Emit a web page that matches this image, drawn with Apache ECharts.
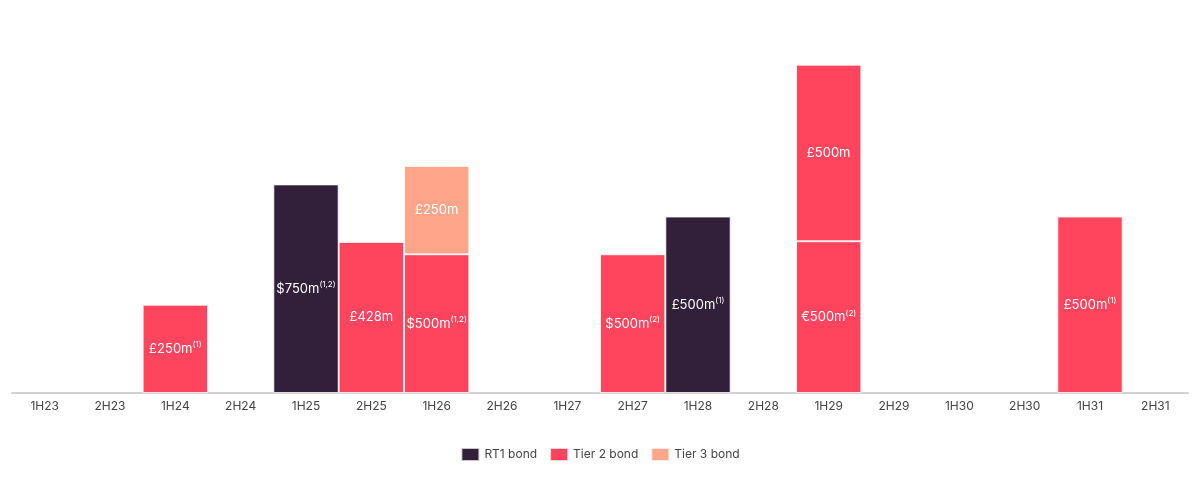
<!DOCTYPE html>
<html><head><meta charset="utf-8">
<script src="https://cdn.jsdelivr.net/npm/echarts@6/dist/echarts.min.js"></script>
<style>html,body{margin:0;padding:0;background:#fff}#c{width:1200px;height:495px}</style>
</head><body><div id="c"></div>
<script>
const categories = ['1H23','2H23','1H24','2H24','1H25','2H25','1H26','2H26','1H27','2H27','1H28','2H28','1H29','2H29','1H30','2H30','1H31','2H31'];
// GBP-equivalent sizes (£m)
const rt1Values   = [null,null,null,null,591,null,null,null,null,null,500,null,null,null,null,null,null,null];
const tier2Values = [null,null,250,null,null,428,393,null,null,393,null,null,430,null,null,null,500,null];
const tier2bValues= [null,null,null,null,null,null,null,null,null,null,null,null,500,null,null,null,null,null];
const tier3Values = [null,null,null,null,null,null,250,null,null,null,null,null,null,null,null,null,null,null];
// labels: [main text, superscript]
const rt1Labels   = {4:['$750m','(1,2)'],10:['£500m','(1)']};
const tier2Labels = {2:['£250m','(1)'],5:['£428m',''],6:['$500m','(1,2)'],9:['$500m','(2)'],12:['€500m','(2)'],16:['£500m','(1)']};
const tier2bLabels= {12:['£500m','']};
const tier3Labels = {6:['£250m','']};

const FONT = 'Inter';
function mk(vals, labels){
  return vals.map((v,i)=>{
    if(v==null) return null;
    const l = labels[i];
    return {value:v, label:{formatter: l ? ('{a|'+l[0]+'}'+(l[1]?'{s|'+l[1]+'}':'')) : ''}};
  });
}
const labelCfg = {
  show:true, position:'inside', color:'#fff',
  rich:{
    a:{fontFamily:FONT,fontSize:13,color:'#fff',lineHeight:16},
    s:{fontFamily:FONT,fontSize:8,color:'#fff',verticalAlign:'top',padding:[0,0,8,0],lineHeight:8}
  }
};
const itemBase = {borderColor:'rgba(255,255,255,0.75)',borderWidth:1};
function ser(name, vals, labels, color){
  return {name, type:'bar', stack:'s', data:mk(vals,labels), barCategoryGap:'0%',
    itemStyle:Object.assign({color},itemBase), label:labelCfg, emphasis:{disabled:true}};
}
const chart = echarts.init(document.getElementById('c'));
chart.setOption({
  animation:false,
  grid:{left:12,right:12,top:40,bottom:102},
  legend:{data:['RT1 bond','Tier 2 bond','Tier 3 bond'],icon:'rect',bottom:28,left:'center',itemWidth:18,itemHeight:13,itemGap:12,
    textStyle:{fontFamily:FONT,fontSize:12,color:'#444'}},
  xAxis:{type:'category',data:categories,axisTick:{show:false},
    axisLine:{lineStyle:{color:'#d3d3d3',width:2}},
    axisLabel:{fontFamily:FONT,fontSize:12,color:'#444',margin:7}},
  yAxis:{type:'value',min:0,max:1000,show:false,splitLine:{show:false}},
  series:[
    ser('RT1 bond',rt1Values,rt1Labels,'#321f3a'),
    ser('Tier 2 bond',tier2Values,tier2Labels,'#ff455e'),
    ser('Tier 2 bond ',tier2bValues,tier2bLabels,'#ff455e'),
    ser('Tier 3 bond',tier3Values,tier3Labels,'#ffa58a')
  ]
});
</script></body></html>
